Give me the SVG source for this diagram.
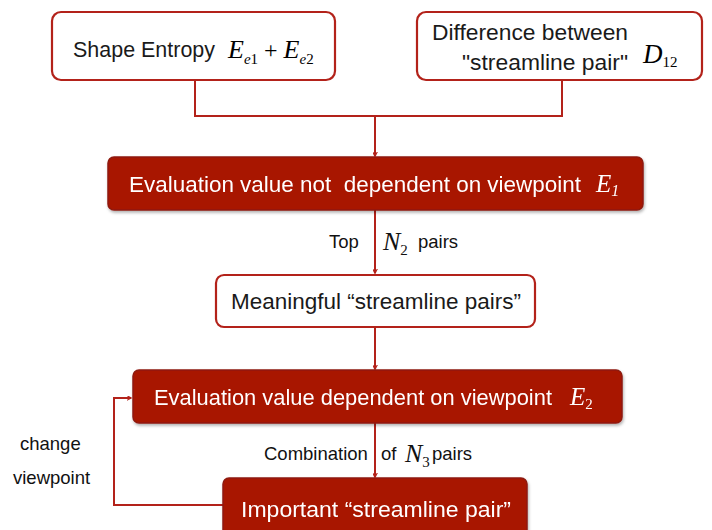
<svg xmlns="http://www.w3.org/2000/svg" width="712" height="530" viewBox="0 0 712 530">
<defs>
<style>
.wbox{fill:#fff;stroke:#B3221A;stroke-width:2.2}
.rbox{fill:#A81400;stroke:#8E1A10;stroke-width:1.5}
.t{font-family:"Liberation Sans",Arial,sans-serif;font-size:22.5px;fill:#1a1a1a}
.tw{font-family:"Liberation Sans",Arial,sans-serif;font-size:22.5px;fill:#fff}
.m{font-family:"Liberation Serif","Times New Roman",serif;font-style:italic}
.ms{font-family:"Liberation Serif","Times New Roman",serif;font-style:normal}
.lbl{font-family:"Liberation Sans",Arial,sans-serif;font-size:18.5px;fill:#111}
.c{fill:none;stroke:#B3221A;stroke-width:2}
</style>
<marker id="ah" viewBox="0 0 10 10" refX="9" refY="5" markerWidth="5" markerHeight="5" orient="auto-start-reverse" markerUnits="userSpaceOnUse">
<path d="M0,0 L10,5 L0,10" fill="none" stroke="#B3221A" stroke-width="2.2"/>
</marker>
<filter id="sh" x="-5%" y="-10%" width="110%" height="130%">
<feDropShadow dx="1" dy="2" stdDeviation="1.5" flood-color="#000" flood-opacity="0.3"/>
</filter>
</defs>
<rect width="712" height="530" fill="#fff"/>

<g id="connectors">
<path class="c" d="M195,80 V116 H562 V80"/>
<path class="c" d="M375,116 V156" marker-end="url(#ah)"/>
<path class="c" d="M375,210 V273" marker-end="url(#ah)"/>
<path class="c" d="M375,327 V369" marker-end="url(#ah)"/>
<path class="c" d="M375,423 V477" marker-end="url(#ah)"/>
<path class="c" d="M223,505 H114 V398 H131" marker-end="url(#ah)"/>
</g>

<g id="shape-entropy">
<rect class="wbox" x="52" y="12" width="283" height="68" rx="9"/>
<text class="t" x="73" y="57" textLength="142" lengthAdjust="spacingAndGlyphs">Shape Entropy</text>
<text x="228" y="58" font-size="26" class="m">E<tspan font-size="15" dy="6">e</tspan><tspan class="ms" font-size="15">1</tspan><tspan class="ms" font-size="24" dy="-6"> + </tspan>E<tspan font-size="15" dy="6">e</tspan><tspan class="ms" font-size="15">2</tspan></text>
</g>

<g id="difference">
<rect class="wbox" x="417" y="12" width="285" height="68" rx="9"/>
<text class="t" x="432" y="40" textLength="196" lengthAdjust="spacingAndGlyphs">Difference between</text>
<text class="t" x="462" y="70" textLength="166" lengthAdjust="spacingAndGlyphs">"streamline pair"</text>
<text x="643" y="63" font-size="27" class="m">D<tspan class="ms" font-size="15" dy="4">12</tspan></text>
</g>

<g id="e1" filter="url(#sh)">
<rect class="rbox" x="108" y="157" width="535" height="53" rx="6"/>
<text class="tw" x="129" y="192" xml:space="preserve" textLength="452" lengthAdjust="spacingAndGlyphs">Evaluation value not  dependent on viewpoint</text>
<text x="596" y="192" font-size="25" fill="#fff" class="m">E<tspan font-size="16" dy="4">1</tspan></text>
</g>

<g id="label-top">
<text class="lbl" x="329" y="248">Top</text>
<text x="383" y="250" font-size="26" class="m" fill="#111">N<tspan class="ms" font-size="15" dy="5">2</tspan></text>
<text class="lbl" x="418" y="248">pairs</text>
</g>

<g id="meaningful">
<rect class="wbox" x="216" y="275" width="319" height="52" rx="8"/>
<text class="t" x="231" y="309" textLength="290" lengthAdjust="spacingAndGlyphs">Meaningful “streamline pairs”</text>
</g>

<g id="e2" filter="url(#sh)">
<rect class="rbox" x="133" y="370" width="489" height="53" rx="6"/>
<text class="tw" x="154" y="405" textLength="398" lengthAdjust="spacingAndGlyphs">Evaluation value dependent on viewpoint</text>
<text x="570" y="405" font-size="25" fill="#fff" class="m">E<tspan class="ms" font-size="15" dy="4">2</tspan></text>
</g>

<g id="label-combination">
<text class="lbl" x="264" y="460">Combination</text>
<text class="lbl" x="381" y="460">of</text>
<text x="405" y="462" font-size="26" class="m" fill="#111">N<tspan class="ms" font-size="15" dy="5">3</tspan></text>
<text class="lbl" x="432" y="460">pairs</text>
</g>

<g id="important" filter="url(#sh)">
<rect class="rbox" x="223" y="478" width="304" height="60" rx="6"/>
<text class="tw" x="241" y="517" textLength="270" lengthAdjust="spacingAndGlyphs">Important “streamline pair”</text>
</g>

<g id="label-change">
<text class="lbl" x="20" y="450">change</text>
<text class="lbl" x="13" y="484">viewpoint</text>
</g>
</svg>
